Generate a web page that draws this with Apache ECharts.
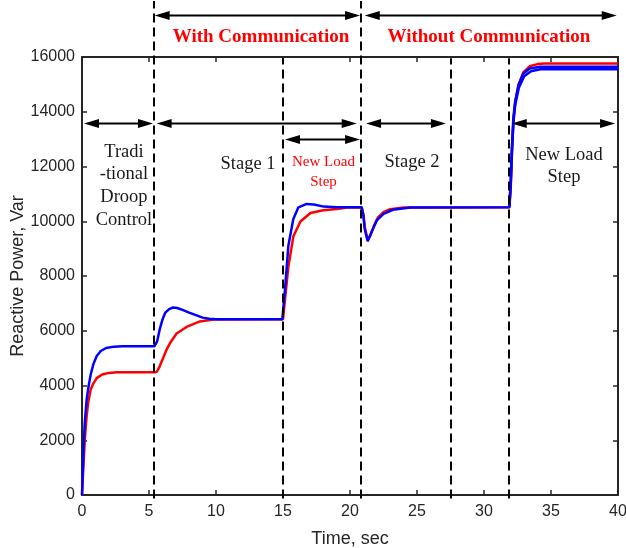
<!DOCTYPE html>
<html>
<head>
<meta charset="utf-8">
<script src="https://cdn.jsdelivr.net/npm/echarts@6/dist/echarts.min.js"></script>
<style>html,body{margin:0;padding:0;background:#fff}#c{width:626px;height:548px}</style>
</head>
<body>
<div id="c"></div>
<script>
// ---- data (time in sec, reactive power in Var) ----
const redTime  = [0,0.1,0.22,0.35,0.47,0.65,0.85,1.1,1.5,2.0,2.6,5.45,5.6,5.8,6.07,6.3,6.57,7.06,7.8,8.8,9.8,15.0,15.15,15.4,15.77,16.3,17.05,18.0,19.0,19.8,20.87,21.0,21.1,21.3,21.5,21.8,22.1,22.5,23.0,24.0,31.9,32.0,32.1,32.2,32.33,32.58,32.95,33.4,34.0,34.5,40];
const redPower = [0,1000,2100,2900,3400,3850,4080,4270,4400,4460,4480,4480,4510,4700,5020,5300,5550,5900,6140,6340,6410,6420,7150,8340,9440,9990,10300,10400,10450,10500,10510,10250,9800,9350,9450,9850,10150,10330,10440,10500,10510,11300,12700,13700,14350,15000,15450,15660,15740,15760,15760];
const blueTime  = [0,0.1,0.2,0.35,0.5,0.65,0.85,1.1,1.4,1.8,2.4,3.0,5.4,5.5,5.6,5.8,6.0,6.2,6.5,6.8,7.1,7.5,8.0,8.5,9.0,9.5,10.0,11.0,14.95,15.15,15.4,15.77,16.15,16.77,17.3,18.04,19.0,20.87,21.0,21.1,21.32,21.6,22.0,22.5,23.2,24.5,31.89,31.99,32.09,32.19,32.32,32.57,32.94,33.4,34.2,40];
const bluePower = [0,1500,2600,3500,4000,4400,4780,5080,5260,5370,5420,5430,5430,5470,5600,6050,6400,6650,6790,6850,6830,6760,6660,6570,6480,6440,6420,6420,6420,7520,9105,10080,10510,10634,10610,10535,10510,10510,10210,9720,9267,9600,10030,10270,10420,10500,10510,11430,12770,13750,14360,14970,15400,15580,15640,15640];
const blue2Time  = [31.89,32.0,32.1,32.2,32.33,32.6,33.0,33.5,34.2,40];
const blue2Power = [10510,11400,12700,13650,14250,14880,15300,15480,15550,15550];
const regimeBoundaries = [5.4, 20.8];        // dashed lines reaching the top headings
const stageBoundaries = [15, 27.5, 31.9];    // dashed lines inside the plot only
const xTicks = [0,5,10,15,20,25,30,35,40];
const yTicks = [0,2000,4000,6000,8000,10000,12000,14000,16000];

// annotation arrows: [tStart, tEnd, level(Var)]
const arrowSpans = [
  [5.42, 20.75, 17530], [21.1, 39.9, 17530],
  [0.15, 5.3, 13600], [5.57, 20.5, 13600], [21.2, 27.16, 13600], [32.07, 39.78, 13600],
  [15.15, 20.75, 13015]
];
// annotation texts: [text, t, level, kind]
const notes = [
  ['With Communication', 13.36, 16714, 'head'],
  ['Without Communication', 30.37, 16714, 'head'],
  ['Tradi', 3.13, 12537, 'body'],
  ['-tional', 3.13, 11731, 'body'],
  ['Droop', 3.13, 10889, 'body'],
  ['Control', 3.13, 10047, 'body'],
  ['Stage 1', 12.39, 12097, 'body'],
  ['New Load', 18.02, 12172, 'small'],
  ['Step', 18.02, 11440, 'small'],
  ['Stage 2', 24.63, 12172, 'body'],
  ['New Load', 35.97, 12429, 'body'],
  ['Step', 35.97, 11623, 'body']
];

const zip = (a, b) => a.map((t, i) => [t, b[i]]);
const axisCol = '#262626';
const sans = 'Liberation Sans, Arial, sans-serif';
const serif = 'Liberation Serif, Times New Roman, serif';

const chart = echarts.init(document.getElementById('c'), null, {renderer: 'canvas'});
const baseX = {
  type: 'value', min: 0, max: 40, interval: 5,
  axisLine: {show: true, onZero: false, lineStyle: {color: axisCol, width: 2}},
  axisTick: {show: true, inside: true, length: 5, lineStyle: {color: axisCol, width: 1.5}},
  splitLine: {show: false}
};
const baseY = {
  type: 'value', min: 0, max: 16000, interval: 2000,
  axisLine: {show: true, onZero: false, lineStyle: {color: axisCol, width: 2}},
  axisTick: {show: true, inside: true, length: 5, lineStyle: {color: axisCol, width: 1.5}},
  splitLine: {show: false}
};
const option = {
  animation: false,
  backgroundColor: '#fff',
  grid: {left: 82, right: 8, top: 57, bottom: 53, containLabel: false, outerBoundsMode: 'none'},
  xAxis: [
    Object.assign({}, baseX, {
      position: 'bottom',
      axisLabel: {fontSize: 16, color: axisCol, fontFamily: sans, margin: 9,
        formatter: v => xTicks.includes(v) ? String(v) : ''},
      name: 'Time, sec', nameLocation: 'middle', nameGap: 35,
      nameTextStyle: {fontSize: 18, color: axisCol, fontFamily: sans}
    }),
    Object.assign({}, baseX, {position: 'top', axisLabel: {show: false}})
  ],
  yAxis: [
    Object.assign({}, baseY, {
      position: 'left',
      axisLabel: {fontSize: 16, color: axisCol, fontFamily: sans, margin: 7,
        formatter: v => yTicks.includes(v) ? String(v) : ''},
      name: 'Reactive Power, Var', nameLocation: 'middle', nameGap: 55, nameMoveOverlap: false,
      nameTextStyle: {fontSize: 18, color: axisCol, fontFamily: sans}
    }),
    Object.assign({}, baseY, {position: 'right', axisLabel: {show: false}})
  ],
  series: [
    {type: 'line', name: 'red', data: zip(redTime, redPower), showSymbol: false, symbol: 'none',
      lineStyle: {color: '#ff0000', width: 2.5}, xAxisIndex: 0, yAxisIndex: 0, z: 2},
    {type: 'line', name: 'blue2', data: zip(blue2Time, blue2Power), showSymbol: false, symbol: 'none',
      lineStyle: {color: '#0000ff', width: 2.5}, xAxisIndex: 0, yAxisIndex: 0, z: 3},
    {type: 'line', name: 'blue', data: zip(blueTime, bluePower), showSymbol: false, symbol: 'none',
      lineStyle: {color: '#0000ff', width: 2.5}, xAxisIndex: 0, yAxisIndex: 0, z: 3}
  ]
};
chart.setOption(option);

function P(t, v) { return chart.convertToPixel({xAxisIndex: 0, yAxisIndex: 0}, [t, v]); }
const g = [];
function dashed(t, top) {
  const a = P(t, -130), b = P(t, top);
  const x = Math.round(a[0]);
  g.push({type: 'line', z: 50, shape: {x1: x, y1: a[1], x2: x, y2: b[1]},
    style: {stroke: '#000', lineWidth: 2, lineDash: [9, 5]}});
}
regimeBoundaries.forEach(t => dashed(t, 18050));
stageBoundaries.forEach(t => dashed(t, 15950));
const headL = 15, headW = 4.5;
arrowSpans.forEach(([t0, t1, lv]) => {
  const a = P(t0, lv), b = P(t1, lv);
  const y = Math.round(a[1]) + 0.5;
  g.push({type: 'line', z: 50, shape: {x1: a[0] + headL - 2, y1: y, x2: b[0] - headL + 2, y2: y},
    style: {stroke: '#000', lineWidth: 2}});
  g.push({type: 'polygon', z: 50, shape: {points: [[a[0], y], [a[0] + headL, y - headW], [a[0] + headL, y + headW]]},
    style: {fill: '#000'}});
  g.push({type: 'polygon', z: 50, shape: {points: [[b[0], y], [b[0] - headL, y - headW], [b[0] - headL, y + headW]]},
    style: {fill: '#000'}});
});
notes.forEach(([txt, t, lv, kind]) => {
  const p = P(t, lv);
  let font, fill;
  if (kind === 'head') { font = 'bold 19px ' + serif; fill = '#ff0000'; }
  else if (kind === 'small') { font = '15px ' + serif; fill = '#ff0000'; }
  else { font = '18.5px ' + serif; fill = '#1a1a1a'; }
  g.push({type: 'text', z: 60, x: p[0], y: p[1],
    style: {text: txt, font: font, fill: fill, align: 'center', verticalAlign: 'middle'}});
});
chart.setOption({graphic: g});
</script>
</body>
</html>
